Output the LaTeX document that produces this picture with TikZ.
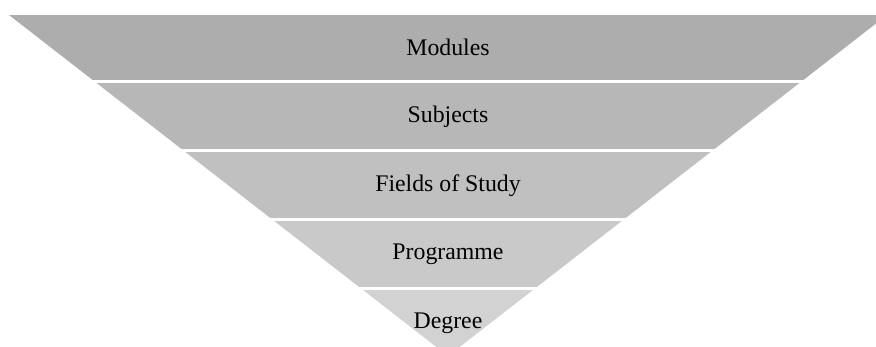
\documentclass[tikz,border=0pt]{standalone}
\usepackage{fontspec}
\setmainfont{Liberation Serif}
\usepackage{xcolor}
\usepackage{tikz}
\usetikzlibrary{positioning}

\definecolor{bandA}{gray}{0.68}
\definecolor{bandB}{gray}{0.718}
\definecolor{bandC}{gray}{0.753}
\definecolor{bandD}{gray}{0.788}
\definecolor{bandE}{gray}{0.822}

\tikzset{
    layer/.style={font=\fontsize{23.8}{28}\selectfont, inner sep=0pt},
}

\begin{document}
\begin{tikzpicture}[x=1pt, y=-1pt]
    \useasboundingbox (0,0) rectangle (876,347);
    \clip (0,0) rectangle (876,347);

    \coordinate (tl) at (9,15);
    \coordinate (tr) at (887,15);
    \coordinate (apex) at (448,356);

    \begin{scope}
        \clip (tl) -- (tr) -- (apex) -- cycle;
        \foreach \top/\bot/\col in {15/80/bandA, 83.5/149/bandB, 152.5/218/bandC, 221/287/bandD, 290/360/bandE}
            \fill[\col] (0,\top) rectangle (900,\bot);
    \end{scope}

    \node[layer] (modules) at (448,47.5) {Modules};
    \node[layer] (subjects) at (448,116.3) {Subjects};
    \node[layer] (fields) at (448,185.3) {Fields of Study};
    \node[layer] (programme) at (448,254) {Programme};
    \node[layer] (degree) at (448,323) {Degree};
\end{tikzpicture}
\end{document}
